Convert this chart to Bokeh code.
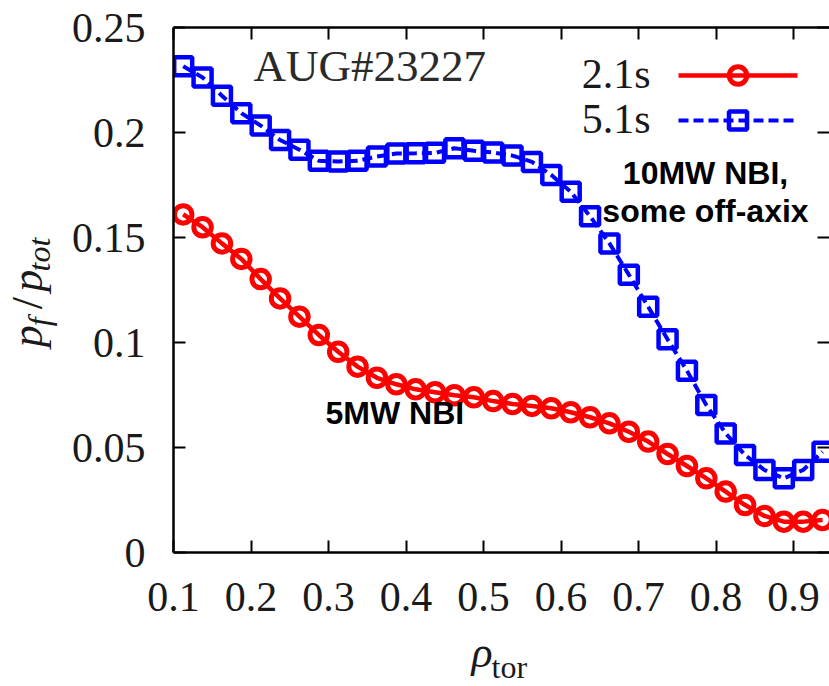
import math

from bokeh.embed import file_html
from bokeh.layouts import column, row
from bokeh.models import FixedTicker, Label, LinearAxis, Range1d
from bokeh.plotting import figure
from bokeh.resources import INLINE

# ---- data: fast-ion pressure fraction versus normalised toroidal radius ----
rho = [0.1125, 0.1375, 0.1625, 0.1875, 0.2125, 0.2375, 0.2625, 0.2875, 0.3125, 0.3375,
       0.3625, 0.3875, 0.4125, 0.4375, 0.4625, 0.4875, 0.5125, 0.5375, 0.5625, 0.5875,
       0.6125, 0.6375, 0.6625, 0.6875, 0.7125, 0.7375, 0.7625, 0.7875, 0.8125, 0.8375,
       0.8625, 0.8875, 0.9125, 0.9375]

pf_2_1s = [0.1610, 0.1549, 0.1472, 0.1398, 0.1302, 0.1210, 0.1123, 0.1036, 0.0956, 0.0885,
           0.0832, 0.0801, 0.0777, 0.0763, 0.0749, 0.0739, 0.0721, 0.0707, 0.0698, 0.0687,
           0.0668, 0.0644, 0.0615, 0.0575, 0.0528, 0.0469, 0.0412, 0.0353, 0.0290, 0.0226,
           0.0174, 0.0147, 0.0147, 0.0155]

pf_5_1s = [0.2315, 0.2262, 0.2175, 0.2092, 0.2033, 0.1964, 0.1918, 0.1865, 0.1862, 0.1865,
           0.1886, 0.1900, 0.1901, 0.1903, 0.1925, 0.1913, 0.1905, 0.1890, 0.1860, 0.1798,
           0.1718, 0.1601, 0.1472, 0.1323, 0.1170, 0.1015, 0.0866, 0.0702, 0.0567, 0.0464,
           0.0393, 0.0353, 0.0393, 0.0480]

series_labels = ["2.1s", "5.1s"]
shot_label = "AUG#23227"
note_5mw = "5MW NBI"
note_10mw = ["10MW NBI,", "some off-axix"]

x_ticks = [0.1, 0.2, 0.3, 0.4, 0.5, 0.6, 0.7, 0.8, 0.9]
x_tick_labels = ["0.1", "0.2", "0.3", "0.4", "0.5", "0.6", "0.7", "0.8", "0.9"]
y_ticks = [0.0, 0.05, 0.1, 0.15, 0.2, 0.25]
y_tick_labels = ["0", "0.05", "0.1", "0.15", "0.2", "0.25"]

# ---- page geometry (pixels) ----
W, H = 829, 686
YLAB_W = 62                 # strip holding the vertical axis title
MAIN_H = 624                # the x-axis title strip fills the rest below
FRAME_L, FRAME_T, FRAME_B = 173, 27, 552   # plotting area edges on the page
PX_PER_X = 775.0            # pixels per unit of rho
Y_MAX = 0.25
X_MIN = 0.1
X_MAX = X_MIN + (W - FRAME_L) / PX_PER_X

SERIF = "Liberation Serif"
SANS = "Liberation Sans"
RED = "#ff0000"
BLUE = "#0000ff"
TEXT = "#1a1a1a"


def fx(px):
    """page pixel column -> data x"""
    return X_MIN + (px - FRAME_L) / PX_PER_X


def fy(py):
    """page pixel row -> data y"""
    return (FRAME_B - py) * Y_MAX / (FRAME_B - FRAME_T)


def blank(fig):
    fig.outline_line_color = None
    fig.background_fill_color = "white"
    fig.border_fill_color = "white"
    fig.xgrid.visible = False
    fig.ygrid.visible = False


# ---- main plot ----
p = figure(width=W - YLAB_W, height=MAIN_H, output_backend="svg", toolbar_location=None,
           x_range=Range1d(X_MIN, X_MAX), y_range=Range1d(0, Y_MAX),
           x_axis_location=None, y_axis_location=None,
           min_border_left=FRAME_L - YLAB_W, min_border_right=0,
           min_border_top=FRAME_T, min_border_bottom=MAIN_H - FRAME_B)
blank(p)


def make_axis(ticks, labels, show_labels, show_line, standoff):
    ax = LinearAxis(ticker=FixedTicker(ticks=ticks),
                    major_label_overrides=dict(zip(ticks, labels)),
                    major_tick_in=12, major_tick_out=0,
                    major_tick_line_width=2, major_tick_line_color="black",
                    minor_tick_line_color=None,
                    axis_line_width=2.5,
                    axis_line_color="black" if show_line else None)
    if show_labels:
        ax.major_label_text_font = SERIF
        ax.major_label_text_font_size = "42px"
        ax.major_label_text_color = TEXT
        ax.major_label_standoff = standoff
    else:
        ax.major_label_text_font_size = "0px"
        ax.major_label_text_color = None
        ax.major_label_standoff = 0
    return ax


p.add_layout(make_axis(x_ticks, x_tick_labels, True, True, 30), "below")
p.add_layout(make_axis(y_ticks, y_tick_labels, True, True, 28), "left")
p.add_layout(make_axis(x_ticks, x_tick_labels, False, True, 0), "above")
p.add_layout(make_axis(y_ticks, y_tick_labels, False, False, 0), "right")

# ---- curves ----
p.line(rho, pf_2_1s, line_color=RED, line_width=4.5)
p.scatter(rho, pf_2_1s, marker="circle", size=17.5, line_color=RED,
          line_width=5, fill_color=None)

p.line(rho, pf_5_1s, line_color=BLUE, line_width=4, line_dash="10 5")
p.scatter(rho, pf_5_1s, marker="square", size=18, line_color=BLUE,
          line_width=4.5, fill_color=None)


def label(fig, txt, x, y, size, font=SERIF, style="normal", align="left",
          color=TEXT, angle=0.0):
    fig.add_layout(Label(x=x, y=y, text=txt, text_font=font,
                         text_font_style=style, text_font_size=size, text_color=color,
                         text_align=align, text_baseline="alphabetic",
                         angle=angle, angle_units="rad"))


# ---- key (label on the left, sample on the right) ----
key_x0, key_x1, key_xm = fx(678), fx(797), fx(737.5)
for i, (lab, color, marker, dash) in enumerate(
        [(series_labels[0], RED, "circle", "solid"),
         (series_labels[1], BLUE, "square", "10 5")]):
    row_y = 75 + 45 * i
    label(p, lab, fx(650), fy(row_y - 2), "42px", align="right")
    is_circle = marker == "circle"
    p.line([key_x0, key_x1], [fy(row_y), fy(row_y)], line_color=color,
           line_width=4.5 if is_circle else 4, line_dash=dash)
    p.scatter([key_xm], [fy(row_y)], marker=marker, size=17.5 if is_circle else 18,
              line_color=color, line_width=5 if is_circle else 4.5, fill_color=None)

# ---- annotations ----
label(p, shot_label, fx(253), fy(65), "45px", color="#2a2a2a")
label(p, note_10mw[0], fx(705), fy(172), "32px", font=SANS, style="bold",
      align="center", color="black")
label(p, note_10mw[1], fx(705), fy(210), "32px", font=SANS, style="bold",
      align="center", color="black")
label(p, note_5mw, fx(325), fy(412), "32px", font=SANS, style="bold", color="black")

# ---- vertical axis title strip: p_f / p_tot ----
ylab = figure(width=YLAB_W, height=MAIN_H, output_backend="svg", toolbar_location=None,
              x_range=Range1d(0, YLAB_W), y_range=Range1d(0, MAIN_H),
              x_axis_location=None, y_axis_location=None, min_border=0)
blank(ylab)
up = math.pi / 2
for txt, px, py, size, style in [("p", 27, 380, "44px", "italic"),
                                 ("f", 38, 355, "32px", "italic"),
                                 ("/", 27, 335, "44px", "normal"),
                                 ("p", 27, 314, "44px", "italic"),
                                 ("tot", 38, 290, "32px", "italic")]:
    label(ylab, txt, px, MAIN_H - py, size, style=style, angle=up)

# ---- horizontal axis title strip: rho_tor ----
XLAB_H = H - MAIN_H
xlab = figure(width=W, height=XLAB_H, output_backend="svg", toolbar_location=None,
              x_range=Range1d(0, W), y_range=Range1d(0, XLAB_H),
              x_axis_location=None, y_axis_location=None, min_border=0)
blank(xlab)
label(xlab, "ρ", 471, H - 652, "44px", style="italic")
label(xlab, "tor", 491, H - 666, "32px")

layout = column(row(ylab, p, spacing=0), xlab, spacing=0)
open("out.html", "w").write(file_html(layout, INLINE))
